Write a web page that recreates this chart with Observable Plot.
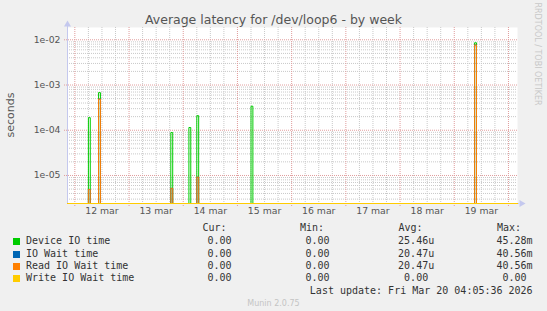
<!DOCTYPE html>
<html><head><meta charset="utf-8">
<script src="https://cdn.jsdelivr.net/npm/d3@7"></script>
<script src="https://cdn.jsdelivr.net/npm/@observablehq/plot@0.6"></script>
<style>
body{margin:0;background:#f0f0f0;}
#wrap{position:relative;width:547px;height:311px;background:#f0f0f0;overflow:hidden;font-family:"DejaVu Sans",sans-serif;}
#chart{position:absolute;left:0;top:0;}
.t{position:absolute;white-space:pre;line-height:12px;}
.mono{font-family:"DejaVu Sans Mono",monospace;font-size:10px;color:#333;}
.sw{position:absolute;width:7px;height:7px;}
</style></head><body><div id="wrap"><div id="chart"></div></div>
<script>
// ---- data ----
const seriesNames = ["Device IO time", "IO Wait time", "Read IO Wait time", "Write IO Wait time"];
const seriesColors = ["#00cc00", "#0066b3", "#ff8000", "#ffcc00"];
// start of each short spike (local time of the graph)
const spikeTimes = ["2026-03-12T06:00", "2026-03-12T10:30", "2026-03-13T18:30", "2026-03-14T02:30", "2026-03-14T06:00", "2026-03-15T06:00", "2026-03-19T09:00"];
const deviceIO    = [1.9e-4, 6.8e-4, 8.9e-5, 1.15e-4, 2.1e-4, 3.4e-4, 8.6e-3];
const ioWait      = [4.9e-6, 4.9e-4, 5.2e-6, 0, 9.2e-6, 0, 7.7e-3];
const readIOWait  = [4.9e-6, 4.9e-4, 5.2e-6, 0, 9.2e-6, 0, 7.7e-3];
const writeIOWait = [0, 0, 0, 0, 0, 0, 0];
const xLabelDays = ["2026-03-12", "2026-03-13", "2026-03-14", "2026-03-15", "2026-03-16", "2026-03-17", "2026-03-18", "2026-03-19"];
const xLabels = ["12 mar", "13 mar", "14 mar", "15 mar", "16 mar", "17 mar", "18 mar", "19 mar"];
const yTicks = [1e-5, 1e-4, 1e-3, 1e-2];
const yTickLabels = ["1e-05", "1e-04", "1e-03", "1e-02"];
const curVals = ["0.00 ", "0.00 ", "0.00 ", "0.00 "];
const minVals = ["0.00 ", "0.00 ", "0.00 ", "0.00 "];
const avgVals = ["25.46u", "20.47u", "20.47u", "0.00 "];
const maxVals = ["45.28m", "40.56m", "40.56m", "0.00 "];
const lastUpdate = "Last update: Fri Mar 20 04:05:36 2026";

// ---- scales / layout ----
const xDomain = [new Date("2026-03-11T20:45Z"), new Date("2026-03-20T04:00Z")];
const yDomain = [2.4e-6, 1.87e-2];
const SPIKE = 50 * 60e3;

const series = [deviceIO, ioWait, readIOWait, writeIOWait].map((vals, si) => {
  const pts = [{t: xDomain[0], v: 0}];
  spikeTimes.forEach((s, i) => {
    const t = new Date(s + "Z"), v = vals[i];
    if (v > 0) {
      const t2 = new Date(+t + SPIKE);
      pts.push({t, v: 0}, {t, v}, {t: t2, v}, {t: t2, v: 0});
    }
  });
  pts.push({t: xDomain[1], v: 0});
  return pts;
});

const days = d3.utcDay.range(d3.utcDay.ceil(xDomain[0]), xDomain[1]);
const sixHours = d3.utcHour.every(6).range(xDomain[0], xDomain[1]).filter(d => d.getUTCHours() !== 0);
const minorY = [];
for (let e = -6; e <= -2; e++) for (let k = 2; k <= 9; k++) {
  const v = k * Math.pow(10, e);
  if (v > yDomain[0] && v < yDomain[1]) minorY.push(v);
}
const noons = xLabelDays.map(d => new Date(d + "T12:00Z"));
const minorC = "#c9c9c9", majorC = "#e09c9c", axisC = "#c4c8ee";

const fy = d => Math.max(d.v, yDomain[0]);
const marks = [
  Plot.frame({fill: "white", stroke: null}),
  Plot.ruleX(sixHours, {x: d => d, stroke: minorC, strokeDasharray: "1,1"}),
  Plot.ruleY(minorY, {y: d => d, stroke: minorC, strokeDasharray: "1,1"}),
  Plot.ruleX(days, {x: d => d, stroke: majorC, strokeDasharray: "1,1", insetBottom: -3}),
  Plot.ruleY(yTicks, {y: d => d, stroke: majorC, strokeDasharray: "1,1", insetLeft: -3}),
  Plot.ruleX([xDomain[0]], {x: d => d, stroke: axisC, insetTop: -4}),
  Plot.ruleY([yDomain[0]], {y: d => d, stroke: axisC, insetRight: -2}),
  Plot.dot([xDomain[0]], {x: d => d, y: () => yDomain[1], symbol: "triangle", r: 2.6, fill: axisC, dy: -3}),
  Plot.dot([xDomain[1]], {x: d => d, y: () => yDomain[0], symbol: "triangle", r: 2.6, fill: axisC, rotate: 90, dx: 4}),
  ...series.map((pts, si) => Plot.line(pts, {x: "t", y: fy, stroke: seriesColors[si], strokeWidth: 1, curve: "linear"})),
  Plot.text(noons, {x: d => d, frameAnchor: "bottom", text: (d, i) => xLabels[i], dy: 10, fontSize: 9.3, fill: "#555"}),
  Plot.text(yTicks, {y: d => d, frameAnchor: "left", text: (d, i) => yTickLabels[i], dx: -7, textAnchor: "end", fontSize: 9.3, fill: "#555"})
];

const chart = Plot.plot({
  width: 547, height: 220,
  marginLeft: 67, marginRight: 30, marginTop: 27, marginBottom: 17,
  style: {background: "transparent", fontFamily: "DejaVu Sans, sans-serif", overflow: "visible"},
  x: {type: "utc", domain: xDomain, axis: null},
  y: {type: "log", domain: yDomain, axis: null, clamp: true},
  marks
});
document.getElementById("chart").appendChild(chart);

// ---- titles & legend (HTML) ----
const wrap = document.getElementById("wrap");
function add(txt, css, cls = "t") {
  const el = document.createElement("div");
  el.className = cls;
  el.textContent = txt;
  Object.assign(el.style, css);
  wrap.appendChild(el);
  return el;
}
add("Average latency for /dev/loop6 - by week", {left: "0", width: "547px", textAlign: "center", top: "14px", fontSize: "12.5px", color: "#555"});
add("seconds", {left: "11px", top: "115px", fontSize: "11px", color: "#555", transform: "translate(-50%,-50%) rotate(-90deg)"});
add("RRDTOOL / TOBI OETIKER", {left: "537px", top: "54px", fontSize: "8px", color: "#c8c8c8", transform: "translate(-50%,-50%) rotate(90deg)"});

const headers = [["Cur:", 202.5], ["Min:", 300], ["Avg:", 398.5], ["Max:", 497]];
headers.forEach(([h, x]) => add(h, {left: x + "px", top: "222px"}, "t mono"));
const rowY = [234.6, 247.5, 259.7, 272.2];
seriesNames.forEach((n, i) => {
  const sw = document.createElement("div");
  sw.className = "sw";
  Object.assign(sw.style, {left: "13px", top: (rowY[i] + 3) + "px", background: seriesColors[i]});
  wrap.appendChild(sw);
  add(n, {left: "26px", top: rowY[i] + "px"}, "t mono");
  add(curVals[i], {right: (547 - 237.6) + "px", top: rowY[i] + "px"}, "t mono");
  add(minVals[i], {right: (547 - 335.6) + "px", top: rowY[i] + "px"}, "t mono");
  add(avgVals[i], {right: (547 - 434.2) + "px", top: rowY[i] + "px"}, "t mono");
  add(maxVals[i], {right: (547 - 532.6) + "px", top: rowY[i] + "px"}, "t mono");
});
add(lastUpdate, {right: (547 - 532.6) + "px", top: "285.2px"}, "t mono");
add("Munin 2.0.75", {left: "0", width: "547px", textAlign: "center", top: "298px", fontSize: "8px", color: "#c4c4c4"});
</script></body></html>
